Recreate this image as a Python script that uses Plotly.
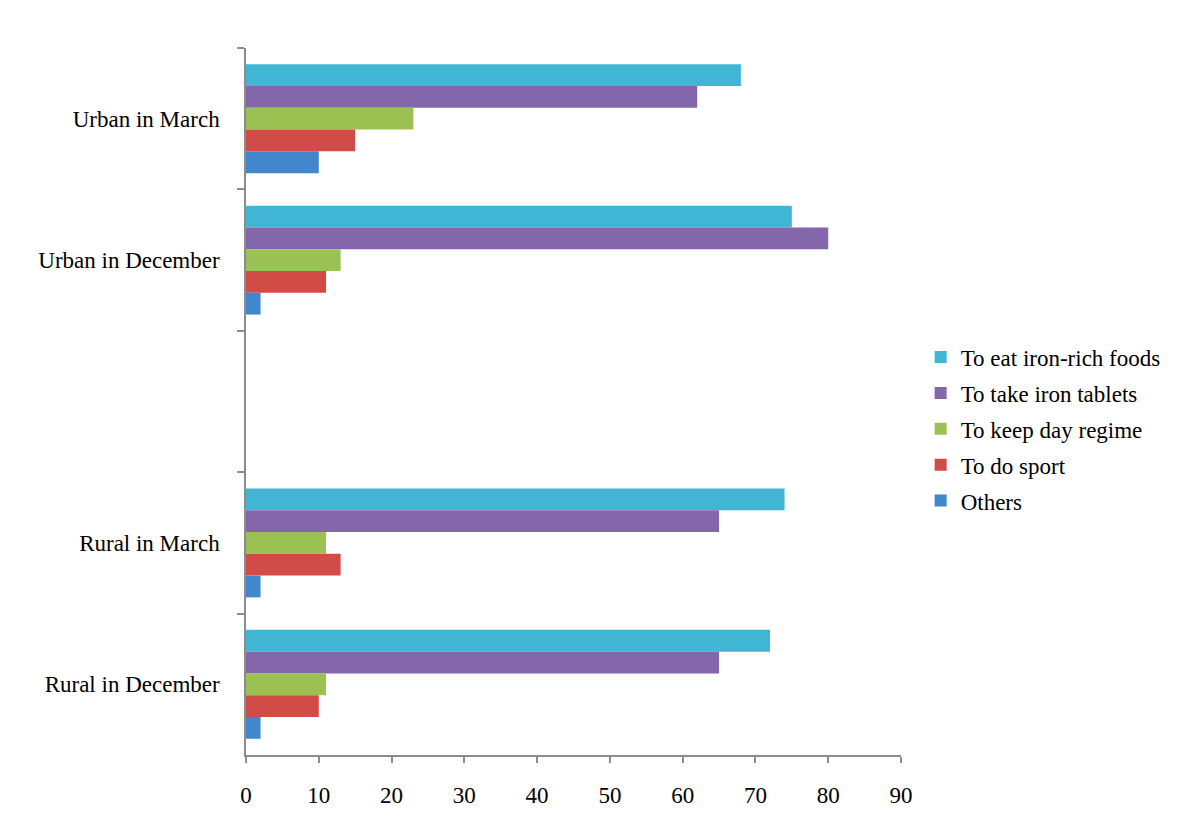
import plotly.graph_objects as go

categories = ["Urban in March", "Urban in December", " ", "Rural in March", "Rural in December"]
series_names = ["To eat iron-rich foods", "To take iron tablets", "To keep day regime", "To do sport", "Others"]
eat_iron_foods = [68, 75, None, 74, 72]
take_iron_tablets = [62, 80, None, 65, 65]
keep_day_regime = [23, 13, None, 11, 11]
do_sport = [15, 11, None, 13, 10]
others = [10, 2, None, 2, 2]
x_ticks = [0, 10, 20, 30, 40, 50, 60, 70, 80, 90]

series_values = [eat_iron_foods, take_iron_tablets, keep_day_regime, do_sport, others]
colors = ["#41B6D4", "#8466AA", "#9CC153", "#D24C47", "#4287CC"]

font_family = "Liberation Serif, Times New Roman, serif"

fig = go.Figure()
for name, vals, col in zip(series_names, series_values, colors):
    fig.add_trace(go.Bar(
        y=categories, x=vals, name=name, orientation="h", legendgroup=name,
        marker=dict(color=col, line=dict(width=0)),
    ))

fig.update_layout(
    width=1184, height=823,
    paper_bgcolor="white", plot_bgcolor="white",
    barmode="group", bargap=0.23, bargroupgap=0,
    margin=dict(l=238, r=291, t=40, b=76),
    font=dict(family=font_family, size=23, color="black"),
    legend=dict(
        x=1.03, y=0.461, xanchor="left", yanchor="middle",
        font=dict(family=font_family, size=23, color="black"),
        traceorder="grouped", itemwidth=30, tracegroupgap=3,
    ),
    showlegend=True,
)
fig.update_xaxes(
    range=[0, 90], tickvals=x_ticks, showgrid=False, zeroline=False,
    showline=True, linecolor="#8c8c8c", linewidth=1.5,
    ticks="outside", ticklen=6, tickcolor="#8c8c8c", tickwidth=1.5,
    ticklabelstandoff=13,
    tickfont=dict(family=font_family, size=23, color="black"),
)
fig.update_yaxes(
    type="category", categoryorder="array", categoryarray=categories,
    autorange="reversed", showgrid=False, zeroline=False,
    showline=True, linecolor="#8c8c8c", linewidth=1.5,
    ticks="outside", ticklen=7, tickcolor="#8c8c8c", tickwidth=1.5,
    tickson="boundaries", ticklabelstandoff=20,
    tickfont=dict(family=font_family, size=23, color="black"),
)

fig.write_html("out.html")
